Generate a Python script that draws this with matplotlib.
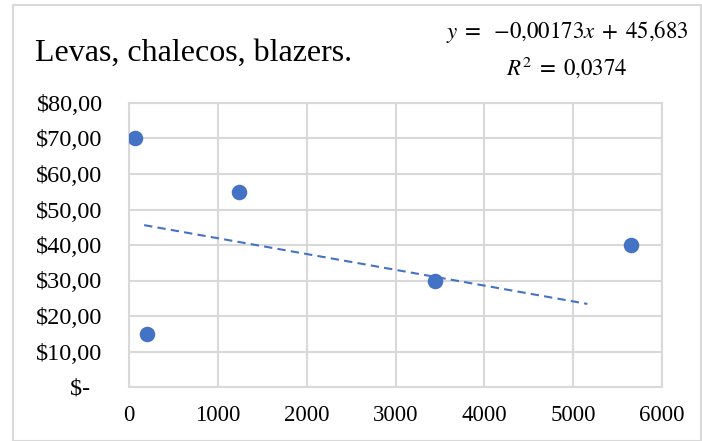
import matplotlib
matplotlib.use("Agg")
import matplotlib.pyplot as plt
from matplotlib.patches import Rectangle

# ---------------- DATA ----------------
x_vals = [70, 200, 1240, 3440, 5650]
y_vals = [70, 15, 55, 30, 40]

# dashed trend line as drawn in the picture
trend_x = [170, 5160]
trend_y = [45.6, 23.4]

x_ticks = [0, 1000, 2000, 3000, 4000, 5000, 6000]
y_ticks = [0, 10, 20, 30, 40, 50, 60, 70, 80]
y_tick_labels = ["\\$-  ", "\\$10,00", "\\$20,00", "\\$30,00", "\\$40,00",
                 "\\$50,00", "\\$60,00", "\\$70,00", "\\$80,00"]

title = "Levas, chalecos, blazers."
eq_text = r"$y\;=\;\ \mathrm{-}0{,}00173x\;+\;45{,}683$"
r2_text = r"$R^2\;=\;0{,}0374$"

BLUE = "#4472C4"
GRID = "#D9D9D9"
SERIF = ["Liberation Serif", "DejaVu Serif"]

plt.rcParams["mathtext.fontset"] = "stix"

# ---------------- PLOT ----------------
fig = plt.figure(figsize=(7.02, 4.41), dpi=100)
fig.patches.append(Rectangle((13 / 702, 0), 688 / 702, 436 / 441,
                             transform=fig.transFigure, fill=False,
                             edgecolor=GRID, linewidth=1.5))

ax = fig.add_axes([129 / 702, 54 / 441, 533 / 702, 284 / 441])

ax.plot(trend_x, trend_y, color=BLUE, linewidth=1.5, dashes=(4, 2.5))
ax.scatter(x_vals, y_vals, s=125, color=BLUE, zorder=3, linewidths=0)

ax.set_xlim(0, 6000)
ax.set_ylim(0, 80)
ax.set_xticks(x_ticks)
ax.set_yticks(y_ticks)
ax.set_xticklabels([str(t) for t in x_ticks], family=SERIF, fontsize=16.5)
ax.set_yticklabels(y_tick_labels, family=SERIF, fontsize=17.5)
ax.tick_params(length=0)
ax.tick_params(axis="x", pad=13)
ax.tick_params(axis="y", pad=19)

ax.grid(True, color=GRID, linewidth=1.5)
ax.set_axisbelow(True)
for sp in ax.spines.values():
    sp.set_color(GRID)
    sp.set_linewidth(1.5)

fig.text(35 / 702, 1 - 61 / 441, title, family=SERIF, fontsize=23,
         ha="left", va="baseline")
fig.text(689 / 702, 1 - 38 / 441, eq_text, fontsize=16.5,
         ha="right", va="baseline")
fig.text(627 / 702, 1 - 75 / 441, r2_text, fontsize=16.5,
         ha="right", va="baseline")

# ---------------- SAVE ----------------
fig.savefig("out.png", dpi=100)
plt.close(fig)
